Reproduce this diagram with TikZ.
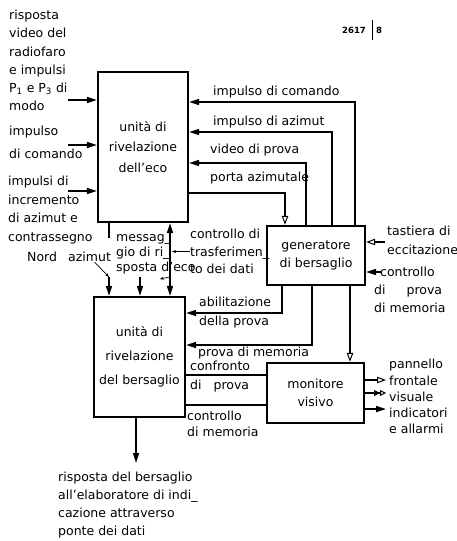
\documentclass[tikz,border=0pt]{standalone}
\usepackage{fontspec}
\setmainfont{DejaVu Sans}
\usetikzlibrary{arrows.meta}

\begin{document}
\begin{tikzpicture}[x=1pt,y=-1pt]
    % Styles for blocks, wires and labels
    \tikzset{
        block/.style={draw, line width=2.4pt, align=center, inner sep=0pt},
        wire/.style={line width=1.6pt},
        arr/.style={wire, -{Triangle[length=10pt,width=6pt]}},
        oarr/.style={wire, -{Triangle[open,length=9pt,width=6.5pt,line width=1pt]}},
        ptr/.style={line width=0.7pt, -{Stealth[length=4pt,width=3pt]}},
        lbl/.style={font=\fontsize{12.5}{#1}\selectfont, align=left, inner sep=0pt, anchor=north west},
        lbl/.default=18
    }
    \useasboundingbox (0,0) rectangle (457,541);

    % Draw the four blocks
    \node[block, minimum width=90pt, minimum height=150pt, font=\fontsize{12.5}{20.5}\selectfont] (echo) at (143,147) {unità di\\rivelazione\\dell'eco};
    \node[block, minimum width=91pt, minimum height=120pt, font=\fontsize{12.5}{24}\selectfont] (bers) at (139.5,357) {unità di\\rivelazione\\del bersaglio};
    \node[block, minimum width=98pt, minimum height=59pt, font=\fontsize{12.5}{18}\selectfont] (gen) at (316,255.5) {generatore\\di bersaglio};
    \node[block, minimum width=97pt, minimum height=60pt, font=\fontsize{12.5}{18}\selectfont] (mon) at (315.5,393) {monitore\\visivo};

    % Inputs of the echo unit
    \coordinate (in1) at (68,100);
    \coordinate (in2) at (68,145);
    \coordinate (in3) at (68,191);
    \foreach \p in {in1,in2,in3}
        \draw[arr] (\p) -- (\p -| echo.west);

    % Lines between generator and echo unit
    \draw[arr] (355,0 |- gen.north) |- (echo.east |- 0,102);
    \draw[arr] (332,0 |- gen.north) |- (echo.east |- 0,132);
    \draw[arr] (306,0 |- gen.north) |- (echo.east |- 0,163);
    \draw[oarr] (echo.east |- 0,193) -| (285,0 |- gen.north);

    % Inputs of the generator
    \coordinate (kbd) at (385,242);
    \coordinate (mtest) at (381,272);
    \draw[oarr] (kbd) -- (kbd -| gen.east);
    \draw[arr] (mtest) -- (mtest -| gen.east);

    % Outputs of the generator
    \draw[arr] (282,0 |- gen.south) |- (bers.east |- 0,313);
    \draw[arr] (312,0 |- gen.south) |- (bers.east |- 0,345);
    \draw[oarr] (350,0 |- gen.south) -- (350,0 |- mon.north);

    % Monitor links and outputs
    \draw[wire] (bers.east |- 0,375) -- (mon.west |- 0,375);
    \draw[wire] (bers.east |- 0,405) -- (mon.west |- 0,405);
    \coordinate (pan1) at (386,380);
    \coordinate (pan2) at (386,393);
    \coordinate (pan3) at (386,409);
    \draw[oarr] (pan1 -| mon.east) -- (pan1);
    \draw[wire, -{Triangle[open,length=6pt,width=6pt,line width=1pt]Triangle[open,length=6pt,width=6pt,line width=1pt]}] (pan2 -| mon.east) -- (pan2);
    \draw[arr] (pan3 -| mon.east) -- (pan3);

    % Links between echo unit and target unit
    \draw[wire] (109,0 |- echo.south) -- ++(0,15);
    \coordinate (az) at (109,277);
    \coordinate (msg) at (140,277);
    \draw[arr] (az) -- (az |- bers.north);
    \draw[arr] (msg) -- (msg |- bers.north);
    \draw[wire, {Triangle[length=10pt,width=6pt]}-{Triangle[length=10pt,width=6pt]}] (170,0 |- echo.south) -- (170,0 |- bers.north);

    % Output of the target unit
    \coordinate (out) at (136,463);
    \draw[arr] (out |- bers.south) -- (out);

    % Labels
    \node[lbl=18.2] (lradar) at (9,10) {risposta\\video del\\radiofaro\\e impulsi\\P\textsubscript{1} e P\textsubscript{3} di\\modo};
    \node[lbl=23] (lcmd) at (9,126) {impulso\\di comando};
    \node[lbl=18.5] (lincr) at (8,176) {impulsi di\\incremento\\di azimut e\\contrassegno};
    \node[lbl] (lnord) at (27,252) {Nord};
    \node[lbl] (lazimut) at (68,252) {azimut};
    \node[lbl=15] (lmsg) at (116,234) {messag\_\\gio di ri\_\\sposta d'eco};
    \node[lbl=17.5] (ltrans) at (190,229) {controllo di\\trasferimen\_\\to dei dati};
    \node[lbl] (lcmdgen) at (213,86) {impulso di comando};
    \node[lbl] (lazigen) at (213,116) {impulso di azimut};
    \node[lbl] (lvideo) at (210,144) {video di prova};
    \node[lbl] (lgate) at (210,172) {porta azimutale};
    \node[lbl=19] (lkbd) at (387,226) {tastiera di\\eccitazione};
    \node[lbl=18] (lmtest) at (374,267) {\hspace*{6pt}controllo\\di\hspace{21pt}prova\\di memoria};
    \node[lbl=19] (lenable) at (199,297) {abilitazione\\della prova};
    \node[lbl] (lmem) at (198,347) {prova di memoria};
    \node[lbl=19] (lcomp) at (190,361) {confronto\\di\hspace{12pt}prova};
    \node[lbl=16] (lmctl) at (187,411) {controllo\\di memoria};
    \node[lbl=16.3] (lpanel) at (389,359) {pannello\\frontale\\visuale\\indicatori\\e allarmi};
    \node[lbl=18] (lreply) at (58,472) {risposta del bersaglio\\all'elaboratore di indi\_\\cazione attraverso\\ponte dei dati};

    % Leader lines
    \draw[ptr] ([xshift=5pt]lazimut.south) -- (az);
    \draw[ptr] ([xshift=14pt,yshift=-3pt]lmsg.south) -- ++(-10,2);
    \draw[ptr] (ltrans.west) -- (ltrans.west -| 172,0);

    % Sheet number
    \node[font=\bfseries\fontsize{8.5}{10}\selectfont, inner sep=0pt, anchor=west] (lpage) at (342,30) {2617};
    \node[font=\bfseries\fontsize{8.5}{10}\selectfont, inner sep=0pt, anchor=west] (lsheet) at (376,30) {8};
    \draw[line width=0.8pt] ([xshift=6pt,yshift=10pt]lpage.east) -- ++(0,20);
\end{tikzpicture}
\end{document}
